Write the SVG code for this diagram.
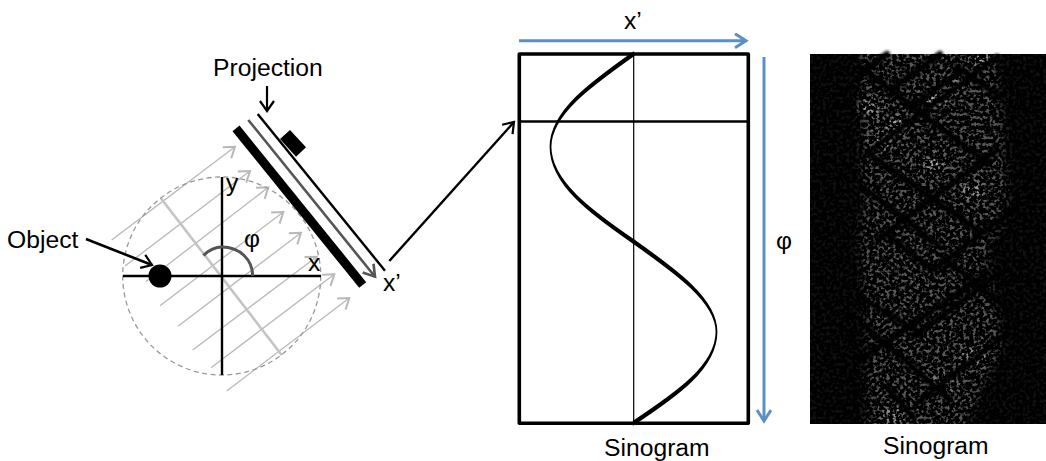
<svg xmlns="http://www.w3.org/2000/svg" width="1046" height="461" viewBox="0 0 1046 461">
<style>
text{font-family:"Liberation Sans",Arial,sans-serif;font-size:24.7px;fill:#000}
.ray{stroke:#b8b8b8;stroke-width:1.3;fill:none;marker-end:url(#ga)}
.blk{stroke:#000;fill:none}
.blue{stroke:#5b8fc6;stroke-width:3;fill:none;marker-end:url(#ba)}
.dark{stroke:#000;stroke-width:6;fill:none;stroke-linecap:round}
</style>
<defs>
<marker id="ga" markerUnits="userSpaceOnUse" markerWidth="20" markerHeight="20" refX="11" refY="8" orient="auto"><path d="M1,1 L11,8 L1,15" fill="none" stroke="#b8b8b8" stroke-width="2"/></marker>
<marker id="ka" markerUnits="userSpaceOnUse" markerWidth="20" markerHeight="20" refX="11" refY="8" orient="auto"><path d="M1,1 L11,8 L1,15" fill="none" stroke="#000" stroke-width="2.2"/></marker>
<marker id="da" markerUnits="userSpaceOnUse" markerWidth="20" markerHeight="20" refX="12" refY="8" orient="auto"><path d="M1,1 L12,8 L1,15" fill="none" stroke="#555" stroke-width="2.6"/></marker>
<marker id="ba" markerUnits="userSpaceOnUse" markerWidth="20" markerHeight="20" refX="12" refY="8" orient="auto"><path d="M1,1 L12,8 L1,15" fill="none" stroke="#5b8fc6" stroke-width="3"/></marker>
<filter id="speckle" x="0" y="0" width="100%" height="100%" color-interpolation-filters="sRGB">
<feTurbulence type="fractalNoise" baseFrequency="0.3" numOctaves="2" seed="11"/>
<feColorMatrix values="0 0 0 0 1 0 0 0 0 1 0 0 0 0 1 5 0 0 0 -2.45"/>
<feGaussianBlur stdDeviation="0.5"/>
</filter>
<filter id="b6" x="-20%" y="-20%" width="140%" height="140%"><feGaussianBlur stdDeviation="5"/></filter>
<filter id="b1" x="-5%" y="-5%" width="110%" height="110%"><feGaussianBlur stdDeviation="1.4"/></filter>
<mask id="env" maskUnits="userSpaceOnUse" x="810" y="54" width="236" height="370">
<rect x="810" y="54" width="236" height="370" fill="#101010"/>
<path d="M860,40 L863,207 L860,257 L867,323 L867,440 L960,440 L1003,340 L987,257 L1007,207 L1003,123 L993,40Z" fill="#585858" filter="url(#b6)"/>
<g fill="#d8d8d8" filter="url(#b6)">
<ellipse cx="870" cy="107" rx="10" ry="6"/><ellipse cx="880" cy="140" rx="10" ry="6"/><ellipse cx="897" cy="125" rx="10" ry="6"/><ellipse cx="933" cy="98" rx="13" ry="7"/><ellipse cx="957" cy="82" rx="10" ry="6"/><ellipse cx="983" cy="60" rx="9" ry="6"/><ellipse cx="977" cy="357" rx="14" ry="5"/><ellipse cx="943" cy="382" rx="10" ry="5"/><ellipse cx="895" cy="415" rx="12" ry="5"/><ellipse cx="972" cy="190" rx="10" ry="6"/><ellipse cx="933" cy="163" rx="10" ry="6"/>
</g>
</mask>
</defs>

<g id="sinogram-image">
<rect x="810" y="54" width="236" height="370" fill="#000"/>
<g mask="url(#env)"><rect x="810" y="54" width="236" height="370" filter="url(#speckle)"/></g>
<g class="dark" filter="url(#b1)">
<path d="M860,73L887,54M890,90L940,54M867,153L997,57M910,107L963,70M877,240L997,150M933,270L1013,210M860,360L987,273M913,337L1000,273M917,403L1007,333"/>
<path d="M860,67L987,163M863,187L940,247M873,157L977,230M890,237L933,270M867,327L950,400M887,387L913,417M957,67L1000,97M860,297L920,333M943,257L1000,303"/>
</g>
</g>

<g id="rays">
<path class="ray" d="M111.7,240L235,146.7"/>
<path class="ray" d="M125,266L250,171"/>
<path class="ray" d="M145.7,281.7L268.3,187.3"/>
<path class="ray" d="M160,305.7L283.3,212"/>
<path class="ray" d="M178.3,326L301,232.7"/>
<path class="ray" d="M192.7,350L316.7,256.7"/>
<path class="ray" d="M211,367.7L334.3,274.3"/>
<path class="ray" d="M226.7,391L349.3,298"/>
</g>
<line id="detector-axis" x1="160.7" y1="198" x2="281.7" y2="355" stroke="#c4c4c4" stroke-width="2.6"/>
<circle id="field" cx="221.7" cy="276" r="99" fill="none" stroke="#999" stroke-width="1.3" stroke-dasharray="5 3.5"/>

<g id="axes" class="blk" stroke-width="2.4">
<path d="M123,276H321M222,177V375"/>
</g>
<path id="angle" d="M203.5,255.5C210,249 216,247 222,247C240,247 252.7,260 252.7,276" fill="none" stroke="#555" stroke-width="3"/>
<g id="object"><circle cx="160" cy="276" r="11.5" fill="#000"/></g>
<g id="detector">
<line x1="236" y1="128.3" x2="362.7" y2="285" stroke="#000" stroke-width="9"/>
<line x1="257.7" y1="114" x2="385" y2="270.7" stroke="#000" stroke-width="2.4"/>
<polygon points="290,130 306,147.3 296,156.7 280,139" fill="#000"/>
</g>

<g id="connectors">
<path d="M248.3,120L375,276.7" fill="none" stroke="#555" stroke-width="2.6" marker-end="url(#da)"/>
<path d="M267,86V111" class="blk" stroke-width="2.2" marker-end="url(#ka)"/>
<path d="M86,239L152,265" class="blk" stroke-width="2.6" marker-end="url(#ka)"/>
<path d="M389.3,261L514,122" class="blk" stroke-width="2.4" marker-end="url(#ka)"/>
<path class="blue" d="M519,40.7H746"/>
<path class="blue" d="M764,57V421"/>
</g>

<g id="sinogram-plot">
<rect x="519.3" y="54" width="229" height="369.3" fill="none" stroke="#000" stroke-width="3.6" stroke-linejoin="round"/>
<line x1="519" y1="121.5" x2="748" y2="121.5" stroke="#000" stroke-width="2.5"/>
<line x1="633.7" y1="54" x2="633.7" y2="423" stroke="#000" stroke-width="1.2"/>
<path d="M633.5,52.5C591,82.6 550.5,111.4 550.5,146.7C550.5,181.1 591,210.9 633.5,240C676,270.1 716.5,298.9 716.5,331.7C716.5,365.6 676,393.4 633.5,421.5L633.5,424.5C676,396.4 716.5,368.6 716.5,331.7C716.5,301.9 676,273.1 633.5,243C591,213.9 550.5,184.1 550.5,146.7C550.5,114.4 591,85.6 633.5,55.5Z" fill="#000" stroke="#000" stroke-width="1.8" stroke-linejoin="round"/>
</g>

<g id="labels">
<text x="213" y="76">Projection</text>
<text x="7" y="248">Object</text>
<text x="226" y="191">y</text>
<text x="308" y="271">x</text>
<text x="383" y="291">x’</text>
<text x="244" y="247">φ</text>
<text x="624" y="29">x’</text>
<text x="776" y="249">φ</text>
<text x="604" y="456">Sinogram</text>
<text x="883" y="454">Sinogram</text>
</g>
</svg>
